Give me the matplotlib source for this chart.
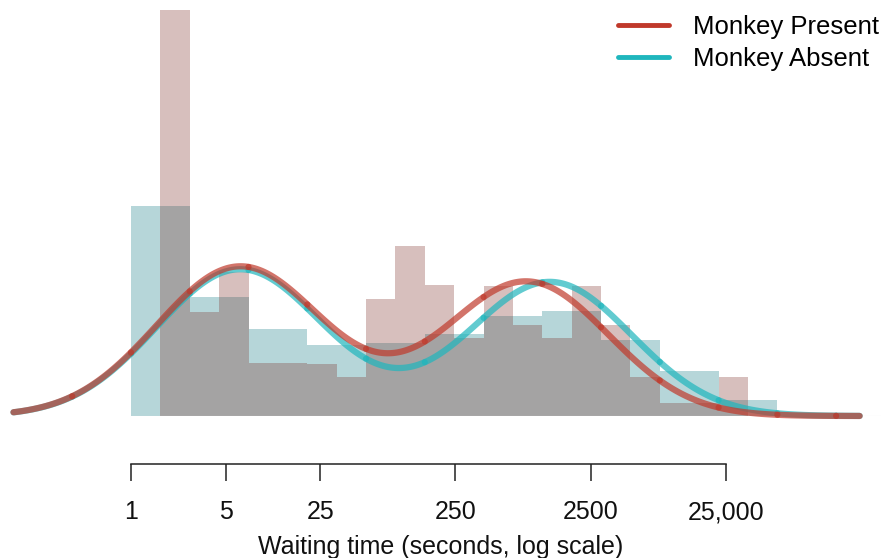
import numpy as np
import matplotlib
matplotlib.use("Agg")
import matplotlib.pyplot as plt
from matplotlib.lines import Line2D

# ---------------- data (histogram bins are on natural-log seconds, starting at 1 s) -------------
present_bin_width = 0.5
present_density = [0.0, 0.412, 0.1059, 0.1459, 0.0535, 0.0535, 0.0528, 0.0399,
                   0.1188, 0.1726, 0.1330, 0.0795, 0.1323, 0.0924, 0.0795, 0.1323,
                   0.0924, 0.0393, 0.0129, 0.0129, 0.0393, 0.0]
absent_bin_width = 1.0
absent_density = [0.213, 0.121, 0.0883, 0.0721, 0.0744, 0.0832, 0.1015, 0.1063,
                  0.0768, 0.0454, 0.0162]

# fitted two-component normal mixtures on log(seconds)
present_weights = [0.54, 0.475]
present_means = [1.855, 6.734]
present_sds = [1.42, 1.39]
absent_weights = [0.53, 0.473]
absent_means = [1.855, 7.13]
absent_sds = [1.42, 1.387]
curve_range = [-2.0, 12.4]

tick_values = [1, 5, 25, 250, 2500, 25000]
tick_labels = ["1", "5", "25", "250", "2500", "25,000"]
series_names = ["Monkey Present", "Monkey Absent"]
x_label = "Waiting time (seconds, log scale)"

# ---------------- style ----------------
RED = "#c0392b"
TEAL = "#1fb6bd"
BAR_RED = (125 / 255, 45 / 255, 38 / 255)
BAR_TEAL = (15 / 255, 122 / 255, 132 / 255)
plt.rcParams["font.family"] = ["Liberation Sans", "DejaVu Sans"]

W, H = 881, 558
fig = plt.figure(figsize=(W / 100, H / 100), dpi=100)
base_px = 416
ax = fig.add_axes([0, (H - base_px) / H, 1, base_px / H])

px_per_ln = 58.76
x0_px = 131
ax.set_xscale("log")
ax.set_xlim(np.exp((0 - x0_px) / px_per_ln), np.exp((W - x0_px) / px_per_ln))
ax.set_ylim(0, base_px / 985.0)

# histograms
abs_edges = np.exp(np.arange(len(absent_density) + 1) * absent_bin_width)
pre_edges = np.exp(np.arange(len(present_density) + 1) * present_bin_width)
ax.stairs(absent_density, abs_edges, fill=True, color=BAR_TEAL, alpha=0.3, lw=0)
ax.stairs(present_density, pre_edges, fill=True, color=BAR_RED, alpha=0.3, lw=0)
ax.plot([1, ax.get_xlim()[1]], [0, 0], color="#e4e4e4", lw=0.8, zorder=1)


def mixture(t, weights, means, sds):
    out = np.zeros_like(t)
    for w, m, s in zip(weights, means, sds):
        out += w * np.exp(-0.5 * ((t - m) / s) ** 2) / (s * np.sqrt(2 * np.pi))
    return out


def draw_curve(weights, means, sds, color):
    lo, hi = curve_range
    k = lo
    while k < hi:
        t = np.linspace(k, min(np.floor(k) + 1, hi), 60)
        ax.plot(np.exp(t), mixture(t, weights, means, sds), color=color, alpha=0.7,
                lw=4.5, solid_capstyle="round", zorder=3, clip_on=False)
        k = np.floor(k) + 1


draw_curve(absent_weights, absent_means, absent_sds, TEAL)
draw_curve(present_weights, present_means, present_sds, RED)

# axis
for s in ["top", "left", "right"]:
    ax.spines[s].set_visible(False)
ax.spines["bottom"].set_position(("outward", 48 * 0.72))
ax.spines["bottom"].set_bounds(tick_values[0], tick_values[-1])
ax.spines["bottom"].set_linewidth(1.1)
ax.spines["bottom"].set_color("#222222")
ax.set_yticks([])
ax.set_xticks(tick_values)
ax.set_xticklabels(tick_labels)
ax.minorticks_off()
ax.tick_params(axis="x", direction="out", length=12, width=1.1, color="#222222",
               pad=14, labelsize=18, labelcolor="#111111")
ax.set_xlabel(x_label, fontsize=18, labelpad=8, color="#111111")

handles = [Line2D([], [], color=RED, lw=3.5, solid_capstyle="round"),
           Line2D([], [], color=TEAL, lw=3.5, solid_capstyle="round")]
fig.legend(handles, series_names, loc="upper left", bbox_to_anchor=(618 / W, 1 - 15 / H),
           frameon=False, fontsize=18.5, handlelength=2.0, handletextpad=0.9,
           labelspacing=0.31, borderpad=0, borderaxespad=0)

fig.savefig("out.png", dpi=100)
